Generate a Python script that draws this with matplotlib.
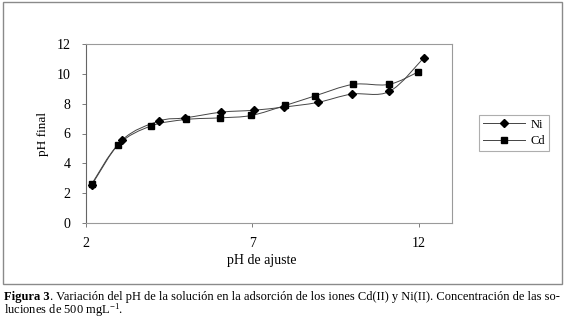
import matplotlib
matplotlib.use("Agg")
import matplotlib.pyplot as plt
import numpy as np
from matplotlib.path import Path
from matplotlib.patches import PathPatch, Rectangle
from matplotlib.lines import Line2D

plt.rcParams['font.family'] = ['Liberation Serif', 'DejaVu Serif']
plt.rcParams['mathtext.fontset'] = 'custom'
plt.rcParams['mathtext.rm'] = 'Liberation Serif'
plt.rcParams['mathtext.it'] = 'Liberation Serif:italic'
plt.rcParams['mathtext.bf'] = 'Liberation Serif:bold'

# Data
ni_x = [2.18, 3.09, 4.19, 4.99, 6.07, 7.04, 7.94, 8.96, 9.98, 11.12, 12.15]
ni_y = [2.58, 5.57, 6.83, 7.05, 7.43, 7.56, 7.77, 8.08, 8.64, 8.82, 11.07]
cd_x = [2.18, 2.97, 3.96, 5.01, 6.04, 6.97, 7.99, 8.88, 10.02, 11.10, 11.97]
cd_y = [2.64, 5.26, 6.51, 6.94, 7.05, 7.21, 7.88, 8.52, 9.29, 9.29, 10.11]
x_ticks = [2, 7, 12]
y_ticks = [0, 2, 4, 6, 8, 10, 12]
xlabel = "pH de ajuste"
ylabel = "pH final"
series_names = ["Ni", "Cd"]
caption_bold = "Figura 3"
caption_rest1 = ". Variación del pH de la solución en la adsorción de los iones Cd(II) y Ni(II). Concentración de las so-"
caption_line2 = r"luciones de 500 mgL$^{\mathregular{-1}}$."

W, H = 567, 321
fig = plt.figure(figsize=(W / 100, H / 100), dpi=100)

# outer frame
fig.patches.append(Rectangle((3 / W, 1 - 284 / H), (562 - 3) / W, (284 - 2) / H,
                             transform=fig.transFigure, fill=False,
                             edgecolor='#8a8a8a', linewidth=1.0))

ax = fig.add_axes([86 / W, 1 - 223 / H, (452 - 86) / W, (223 - 44) / H])


def smooth_path(xs, ys):
    pts = np.column_stack([xs, ys]).astype(float)
    n = len(pts)
    verts = [pts[0]]
    codes = [Path.MOVETO]
    for i in range(n - 1):
        p0 = pts[i - 1] if i > 0 else pts[i]
        p1 = pts[i]
        p2 = pts[i + 1]
        p3 = pts[i + 2] if i + 2 < n else pts[i + 1]
        c1 = p1 + (p2 - p0) / 6.0
        c2 = p2 - (p3 - p1) / 6.0
        verts += [c1, c2, p2]
        codes += [Path.CURVE4] * 3
    return Path(verts, codes)


line_color = '#444444'
for xs, ys, mk, ms in [(ni_x, ni_y, 'D', 4.0), (cd_x, cd_y, 's', 4.6)]:
    ax.add_patch(PathPatch(smooth_path(xs, ys), facecolor='none',
                           edgecolor=line_color, linewidth=0.7))
    ax.plot(xs, ys, linestyle='none', marker=mk, markersize=ms,
            color='black', zorder=3)

ax.set_xlim(2, 13)
ax.set_ylim(0, 12)
ax.set_xticks(x_ticks)
ax.set_yticks(y_ticks)
ax.tick_params(axis='both', direction='out', length=3, width=0.6,
               color='#666666', labelsize=10)
ax.tick_params(axis='x', pad=7)
ax.tick_params(axis='y', pad=8)
for s in ['top', 'right', 'bottom']:
    ax.spines[s].set_color('#9a9a9a')
    ax.spines[s].set_linewidth(0.8)
ax.spines['left'].set_color('#666666')
ax.spines['left'].set_linewidth(0.8)

ax.set_xlabel(xlabel, fontsize=10)
ax.xaxis.set_label_coords(0.48, -0.172)
ax.set_ylabel(ylabel, fontsize=9.5)
ax.yaxis.set_label_coords(-0.101, 0.5)

handles = [Line2D([], [], color=line_color, linewidth=0.7, marker='D',
                  markersize=4.0, markerfacecolor='black', markeredgecolor='black'),
           Line2D([], [], color=line_color, linewidth=0.7, marker='s',
                  markersize=4.6, markerfacecolor='black', markeredgecolor='black')]
leg = fig.legend(handles, series_names, loc='upper left',
                 bbox_to_anchor=(479 / W, 1 - 115 / H), fontsize=9,
                 frameon=True, fancybox=False, edgecolor='#9a9a9a',
                 handlelength=3.4, borderpad=0.3, labelspacing=0.35,
                 handletextpad=0.4, borderaxespad=0)
leg.get_frame().set_linewidth(0.8)

# caption
fs = 9.0
t1 = fig.text(4 / W, 1 - 300 / H, caption_bold, fontsize=fs, fontweight='bold',
              va='baseline', ha='left')
fig.canvas.draw()
bb = t1.get_window_extent()
fig.text(bb.x1 / W, 1 - 300 / H, caption_rest1, fontsize=fs, va='baseline', ha='left')
fig.text(4 / W, 1 - 314 / H, caption_line2, fontsize=fs, va='baseline', ha='left')

fig.savefig("out.png", dpi=100)
